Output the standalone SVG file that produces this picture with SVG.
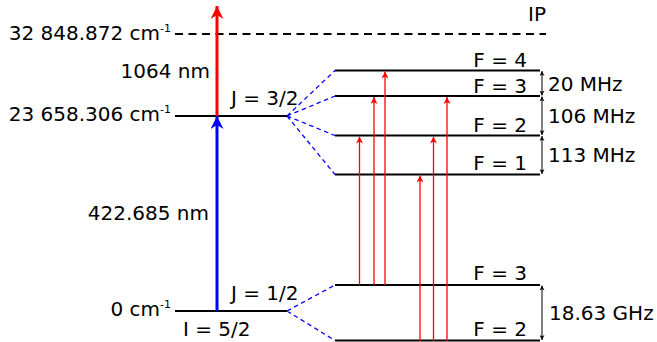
<svg xmlns="http://www.w3.org/2000/svg" width="657" height="342" viewBox="0 0 657 342">
<style>
text{font-family:"DejaVu Sans",Verdana,sans-serif;font-size:20px;fill:#000}
.sup{font-size:11px}
.lvl{stroke:#000;stroke-width:2;fill:none}
.bd{stroke:#0000ff;stroke-width:1.3;stroke-dasharray:4.5 3.5;fill:none}
.rt{stroke:#ff0000;stroke-width:1.3;fill:none;marker-end:url(#rh)}
.dim{stroke:#000;stroke-width:1;fill:none;marker-start:url(#bh);marker-end:url(#bh)}
</style>
<defs>
<marker id="rh" viewBox="0 0 10 10" refX="10" refY="5" markerUnits="userSpaceOnUse" markerWidth="8" markerHeight="7" orient="auto"><path d="M0,0 L10,5 L0,10 L3,5 z" fill="#ff0000"/></marker>
<marker id="bigR" viewBox="0 0 10 10" refX="10" refY="5" markerUnits="userSpaceOnUse" markerWidth="18" markerHeight="13" orient="auto"><path d="M0,0 L10,5 L0,10 L3,5 z" fill="#ff0000"/></marker>
<marker id="bigB" viewBox="0 0 10 10" refX="10" refY="5" markerUnits="userSpaceOnUse" markerWidth="18" markerHeight="13" orient="auto"><path d="M0,0 L10,5 L0,10 L3,5 z" fill="#0000ff"/></marker>
<marker id="bh" viewBox="0 0 10 10" refX="10" refY="5" markerUnits="userSpaceOnUse" markerWidth="6" markerHeight="5" orient="auto-start-reverse"><path d="M0,0 L10,5 L0,10 L3,5 z" fill="#000"/></marker>
</defs>
<g id="levels">
<g id="ip"><line x1="175" y1="34" x2="546" y2="34" stroke="#000" stroke-width="2" stroke-dasharray="8 5.5"/><text x="528" y="21">IP</text><text x="171" y="40" text-anchor="end">32 848.872 cm<tspan class="sup" dy="-8">-1</tspan></text></g>
<g id="j32"><line class="lvl" x1="175" y1="116" x2="287" y2="116"/><text x="231" y="105">J = 3/2</text><text x="171" y="121" text-anchor="end">23 658.306 cm<tspan class="sup" dy="-8">-1</tspan></text></g>
<g id="j12"><line class="lvl" x1="175" y1="311" x2="287" y2="311"/><text x="231" y="300">J = 1/2</text><text x="171" y="316" text-anchor="end">0 cm<tspan class="sup" dy="-8">-1</tspan></text><text x="183" y="336">I = 5/2</text></g>
<g id="uF4"><line class="lvl" x1="335" y1="70.5" x2="540" y2="70.5"/><text x="527" y="67" text-anchor="end">F = 4</text></g>
<g id="uF3"><line class="lvl" x1="335" y1="96" x2="540" y2="96"/><text x="527" y="92.5" text-anchor="end">F = 3</text></g>
<g id="uF2"><line class="lvl" x1="335" y1="135.5" x2="540" y2="135.5"/><text x="527" y="131.5" text-anchor="end">F = 2</text></g>
<g id="uF1"><line class="lvl" x1="335" y1="174.5" x2="540" y2="174.5"/><text x="527" y="170" text-anchor="end">F = 1</text></g>
<g id="lF3"><line class="lvl" x1="335" y1="285" x2="540" y2="285"/><text x="527" y="280" text-anchor="end">F = 3</text></g>
<g id="lF2"><line class="lvl" x1="335" y1="340.5" x2="540" y2="340.5"/><text x="527" y="336" text-anchor="end">F = 2</text></g>
</g>
<g id="connectors">
<line x1="217" y1="116" x2="217" y2="6" stroke="#ff0000" stroke-width="3" marker-end="url(#bigR)"/>
<line x1="217" y1="311" x2="217" y2="116" stroke="#0000ff" stroke-width="3" marker-end="url(#bigB)"/>
<path class="bd" d="M287,116 L335,70.5 M287,116 L335,96 M287,116 L335,135.5 M287,116 L335,174.5 M287,311 L335,285 M287,311 L335,340.5"/>
<line class="rt" x1="359.5" y1="285" x2="359.5" y2="136.5"/>
<line class="rt" x1="374" y1="285" x2="374" y2="97"/>
<line class="rt" x1="385" y1="285" x2="385" y2="71.5"/>
<line class="rt" x1="420" y1="341" x2="420" y2="175.5"/>
<line class="rt" x1="433.5" y1="341" x2="433.5" y2="136.5"/>
<line class="rt" x1="447" y1="341" x2="447" y2="97"/>
<line class="dim" x1="542" y1="71" x2="542" y2="95.5"/>
<line class="dim" x1="542" y1="96.5" x2="542" y2="135"/>
<line class="dim" x1="542" y1="136" x2="542" y2="174"/>
<line class="dim" x1="542" y1="285.5" x2="542" y2="340"/>
</g>
<g id="labels">
<text x="210" y="77.5" text-anchor="end">1064 nm</text>
<text x="209" y="219.5" text-anchor="end">422.685 nm</text>
<text x="548" y="90.5">20 MHz</text>
<text x="548" y="123">106 MHz</text>
<text x="548" y="161.5">113 MHz</text>
<text x="549" y="320">18.63 GHz</text>
</g>
</svg>
